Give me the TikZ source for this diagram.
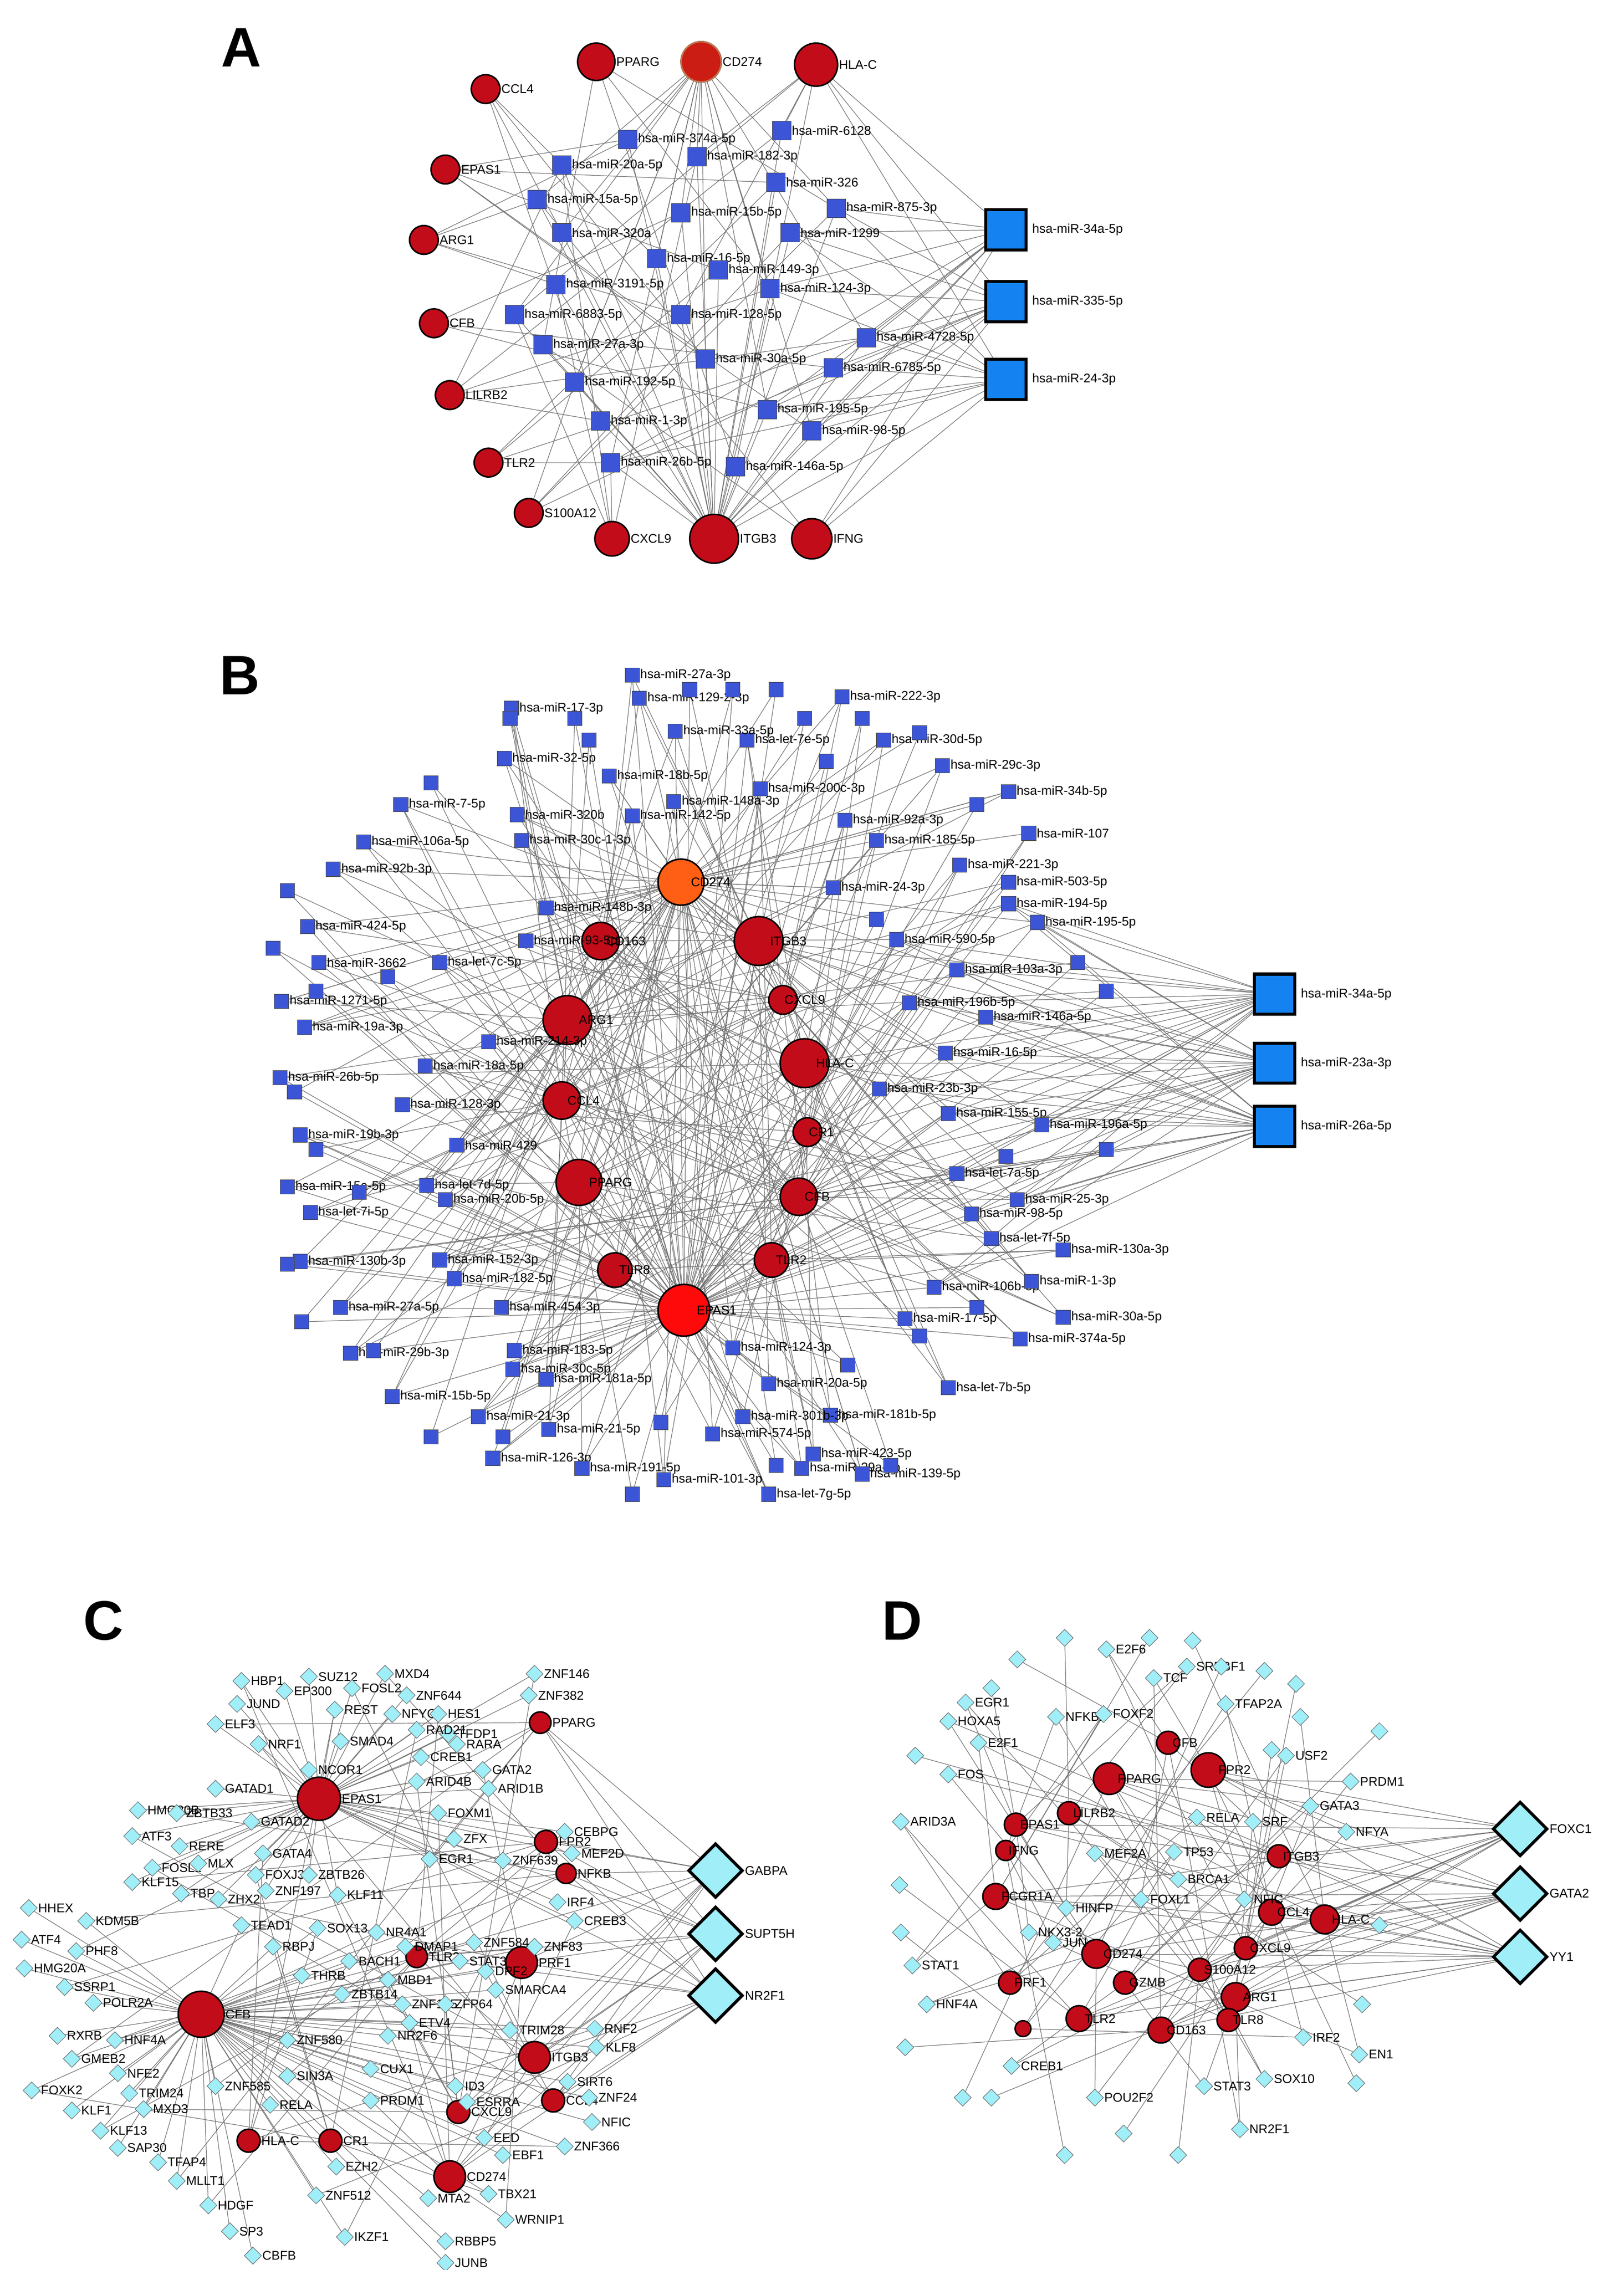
\documentclass[tikz,border=0pt]{standalone}
\usepackage{fontspec}
\setmainfont{Liberation Sans}
\usetikzlibrary{shapes.geometric,backgrounds}
\definecolor{hubred}{RGB}{195,12,25}
\definecolor{sqblue}{RGB}{60,85,215}
\definecolor{bigblue}{RGB}{20,130,240}
\definecolor{diacyan}{RGB}{160,238,248}
\tikzset{
 hub/.style={circle,fill=hubred,draw=black,line width=3pt,inner sep=0pt},
 sq/.style={rectangle,fill=sqblue,draw=black!70,line width=1pt,minimum size=1cm,inner sep=0pt},
 bigsq/.style={rectangle,fill=bigblue,draw=black,line width=6pt,minimum size=2.8cm,inner sep=0pt},
 dia/.style={diamond,fill=diacyan,draw=black!60,line width=1pt,minimum size=1.2cm,inner sep=0pt},
 bigdia/.style={diamond,fill=diacyan,draw=black,line width=6pt,minimum size=3.8cm,inner sep=0pt},
 lab/.style={font=\fontsize{25}{27}\selectfont,inner sep=1pt},
 edge/.style={draw=black!55,line width=1.2pt},
 panel/.style={font=\bfseries\fontsize{110}{120}\selectfont},
}
\begin{document}
\begin{tikzpicture}[x=0.1cm,y=-0.1cm]
\useasboundingbox (0,0) rectangle (1130,1580);
\node[panel] at (168,33) {A};
\node[panel] at (167,470) {B};
\node[panel] at (72,1128) {C};
\node[panel] at (628,1128) {D};
% ================= A
\foreach[count=\i] \x/\y/\s/\t in {415/43/26/PPARG,488/43/28/CD274,568/45/30/HLA-C,338/62/20/CCL4,310/118/20/EPAS1,295/167/20/ARG1,302/225/20/CFB,313/275/20/LILRB2,340/322/20/TLR2,368/357/20/S100A12,426/375/24/CXCL9,497/375/34/ITGB3,565/375/28/IFNG}
 \node[hub,minimum size=\s mm,label={[lab]right:\t}] (ag\i) at (\x,\y) {};
\node[circle,fill=hubred!85!orange,draw={rgb,255:red,190;green,120;blue,80},line width=3pt,minimum size=28mm] at (ag2) {};
\foreach[count=\i] \x/\y/\t in {437/97/hsa-miR-374a-5p,391/115/hsa-miR-20a-5p,485/109/hsa-miR-182-3p,544/91/hsa-miR-6128,374/139/hsa-miR-15a-5p,540/127/hsa-miR-326,582/145/hsa-miR-875-3p,391/162/hsa-miR-320a,474/148/hsa-miR-15b-5p,550/162/hsa-miR-1299,457/180/hsa-miR-16-5p,500/188/hsa-miR-149-3p,536/201/hsa-miR-124-3p,387/198/hsa-miR-3191-5p,358/219/hsa-miR-6883-5p,474/219/hsa-miR-128-5p,603/235/hsa-miR-4728-5p,378/240/hsa-miR-27a-3p,491/250/hsa-miR-30a-5p,580/256/hsa-miR-6785-5p,400/266/hsa-miR-192-5p,534/285/hsa-miR-195-5p,565/300/hsa-miR-98-5p,418/293/hsa-miR-1-3p,425/322/hsa-miR-26b-5p,512/325/hsa-miR-146a-5p}
 \node[sq,minimum size=1.3cm,label={[lab]right:\t}] (am\i) at (\x,\y) {};
\foreach[count=\j] \y/\t in {160/hsa-miR-34a-5p,210/hsa-miR-335-5p,264/hsa-miR-24-3p}
 \node[bigsq,label={[lab,xshift=3mm]right:\t}] (ab\j) at (700,\y) {};
% ================= B
\foreach[count=\i] \x/\y/\s/\t in {474/614/32/CD274,528/655/34/ITGB3,418/655/26/CD163,395/710/34/ARG1,545/696/20/CXCL9,560/740/34/HLA-C,391/766/26/CCL4,562/788/20/CR1,403/823/32/PPARG,556/833/26/CFB,537/877/24/TLR2,428/884/24/TLR8,476/912/36/EPAS1}
 \node[hub,minimum size=\s mm,label={[lab,xshift=-10mm]right:\t}] (bh\i) at (\x,\y) {};
\node[hub,fill={rgb,255:red,255;green,95;blue,20},minimum size=32mm,label={[lab,xshift=-10mm]right:CD274}] at (bh1) {};
\node[hub,fill={rgb,255:red,255;green,10;blue,10},minimum size=36mm,label={[lab,xshift=-10mm]right:EPAS1}] at (bh13) {};
\foreach[count=\i] \x/\y/\t in {440/470/hsa-miR-27a-3p,445/486/hsa-miR-129-2-3p,356/493/hsa-miR-17-3p,586/485/hsa-miR-222-3p,520/515/hsa-let-7e-5p,615/515/hsa-miR-30d-5p,470/509/hsa-miR-33a-5p,656/533/hsa-miR-29c-3p,351/528/hsa-miR-32-5p,424/540/hsa-miR-18b-5p,529/549/hsa-miR-200c-3p,702/551/hsa-miR-34b-5p,279/560/hsa-miR-7-5p,360/567/hsa-miR-320b,440/568/hsa-miR-142-5p,469/558/hsa-miR-148a-3p,588/571/hsa-miR-92a-3p,253/586/hsa-miR-106a-5p,363/585/hsa-miR-30c-1-3p,610/585/hsa-miR-185-5p,716/580/hsa-miR-107,232/605/hsa-miR-92b-3p,668/602/hsa-miR-221-3p,580/618/hsa-miR-24-3p,702/614/hsa-miR-503-5p,380/632/hsa-miR-148b-3p,702/629/hsa-miR-194-5p,214/645/hsa-miR-424-5p,366/655/hsa-miR-93-5p,722/642/hsa-miR-195-5p,624/654/hsa-miR-590-5p,222/670/hsa-miR-3662,306/670/hsa-let-7c-5p,666/675/hsa-miR-103a-3p,633/698/hsa-miR-196b-5p,196/697/hsa-miR-1271-5p,686/708/hsa-miR-146a-5p,212/715/hsa-miR-19a-3p,340/725/hsa-miR-214-3p,658/733/hsa-miR-16-5p,195/750/hsa-miR-26b-5p,296/742/hsa-miR-18a-5p,612/758/hsa-miR-23b-3p,280/769/hsa-miR-128-3p,660/775/hsa-miR-155-5p,725/783/hsa-miR-196a-5p,209/790/hsa-miR-19b-3p,318/797/hsa-miR-429,200/826/hsa-miR-15a-5p,297/825/hsa-let-7d-5p,666/817/hsa-let-7a-5p,310/835/hsa-miR-20b-5p,216/844/hsa-let-7i-5p,708/835/hsa-miR-25-3p,676/845/hsa-miR-98-5p,690/862/hsa-let-7f-5p,209/878/hsa-miR-130b-3p,306/877/hsa-miR-152-3p,740/870/hsa-miR-130a-3p,316/890/hsa-miR-182-5p,650/896/hsa-miR-106b-5p,718/892/hsa-miR-1-3p,237/910/hsa-miR-27a-5p,349/910/hsa-miR-454-3p,630/918/hsa-miR-17-5p,740/917/hsa-miR-30a-5p,710/932/hsa-miR-374a-5p,244/942/hsa-miR-29b-3p,358/940/hsa-miR-183-5p,510/938/hsa-miR-124-3p,357/953/hsa-miR-30c-5p,380/960/hsa-miR-181a-5p,535/963/hsa-miR-20a-5p,660/966/hsa-let-7b-5p,273/972/hsa-miR-15b-5p,578/985/hsa-miR-181b-5p,333/986/hsa-miR-21-3p,382/995/hsa-miR-21-5p,517/986/hsa-miR-301b-3p,496/998/hsa-miR-574-5p,343/1015/hsa-miR-126-3p,566/1012/hsa-miR-423-5p,558/1022/hsa-miR-29a-3p,600/1026/hsa-miR-139-5p,405/1022/hsa-miR-191-5p,462/1030/hsa-miR-101-3p,535/1040/hsa-let-7g-5p}
 {\node[sq,label={[lab]right:\t}] (bm\i) at (\x,\y) {};\xdef\nB{\i}}
\foreach[count=\i] \x/\y in {355/500,400/500,480/480,510/480,540/480,560/500,600/500,640/510,200/620,190/660,220/690,205/760,770/690,220/800,200/880,210/920,640/930,590/950,770/800,700/805,300/1000,440/1040,620/1020,350/1000,750/670,250/830,270/680,540/1020,410/515,575/530,300/545,680/560,680/910,260/940,460/990,610/640}
 {\node[sq] (bu\i) at (\x,\y) {};\xdef\nBu{\i}}
\foreach[count=\j] \y/\t in {692/hsa-miR-34a-5p,740/hsa-miR-23a-3p,784/hsa-miR-26a-5p}
 \node[bigsq,label={[lab,xshift=3mm]right:\t}] (bb\j) at (887,\y) {};
% ================= C
\foreach[count=\i] \x/\y/\s/\t in {222/1252/30/EPAS1,140/1402/32/CFB,376/1199/15/PPARG,380/1282/16/FPR2,394/1304/14/NFKB,290/1362/15/TLR2,363/1366/22/PRF1,372/1432/22/ITGB3,385/1462/16/CCL4,319/1470/16/CXCL9,173/1490/16/HLA-C,230/1490/16/CR1,313/1515/22/CD274}
 \node[hub,minimum size=\s mm,label={[lab]right:\t}] (ch\i) at (\x,\y) {};
\foreach[count=\i] \x/\y/\t in {372/1165/ZNF146,368/1180/ZNF382,168/1170/HBP1,215/1167/SUZ12,268/1165/MXD4,198/1177/EP300,245/1175/FOSL2,165/1186/JUND,233/1190/REST,283/1180/ZNF644,150/1200/ELF3,273/1193/NFYC,305/1193/HES1,312/1207/TFDP1,180/1214/NRF1,237/1212/SMAD4,290/1204/RAD21,318/1214/RARA,293/1223/CREB1,215/1232/NCOR1,336/1232/GATA2,150/1245/GATAD1,290/1240/ARID4B,340/1245/ARID1B,305/1262/FOXM1,96/1260/HMG20B,123/1262/ZBTB33,175/1268/GATAD2,92/1278/ATF3,125/1285/RERE,183/1290/GATA4,316/1280/ZFX,299/1294/EGR1,350/1295/ZNF639,393/1275/CEBPG,398/1290/MEF2D,106/1300/FOSL1,138/1297/MLX,178/1305/FOXJ3,215/1305/ZBTB26,92/1310/KLF15,126/1318/TBP,152/1322/ZHX2,185/1316/ZNF197,235/1319/KLF11,388/1324/IRF4,400/1337/CREB3,20/1328/HHEX,60/1337/KDM5B,262/1345/NR4A1,282/1355/DMAP1,168/1340/TEAD1,221/1342/SOX13,15/1350/ATF4,53/1358/PHF8,243/1365/BACH1,372/1355/ZNF83,330/1352/ZNF584,338/1372/DPF2,17/1370/HMG20A,190/1355/RBPJ,210/1375/THRB,45/1383/SSRP1,65/1394/POLR2A,238/1388/ZBTB14,280/1395/ZNF175,310/1395/ZFP64,345/1385/SMARCA4,285/1408/ETV4,40/1417/RXRB,80/1420/HNF4A,200/1420/ZNF580,270/1417/NR2F6,355/1413/TRIM28,414/1412/RNF2,415/1425/KLF8,50/1433/GMEB2,82/1443/NFE2,200/1445/SIN3A,258/1440/CUX1,395/1449/SIRT6,410/1460/ZNF24,22/1455/FOXK2,90/1457/TRIM24,150/1452/ZNF585,317/1452/ID3,325/1463/ESRRA,50/1469/KLF1,100/1468/MXD3,188/1465/RELA,258/1462/PRDM1,412/1477/NFIC,70/1483/KLF13,82/1495/SAP30,337/1488/EED,350/1500/EBF1,393/1494/ZNF366,110/1505/TFAP4,123/1518/MLLT1,234/1508/EZH2,145/1535/HDGF,160/1553/SP3,220/1528/ZNF512,298/1530/MTA2,340/1527/TBX21,176/1570/CBFB,240/1557/IKZF1,310/1560/RBBP5,352/1545/WRNIP1,310/1575/JUNB,270/1378/MBD1,320/1365/STAT3}
 {\node[dia,label={[lab]right:\t}] (cd\i) at (\x,\y) {};\xdef\nC{\i}}
\foreach[count=\j] \y/\t in {1302/GABPA,1346/SUPT5H,1389/NR2F1}
 \node[bigdia,label={[lab]right:\t}] (cb\j) at (498,\y) {};
% ================= D
\foreach[count=\i] \x/\y/\s/\t in {772/1238/22/PPARG,813/1213/16/CFB,841/1232/24/FPR2,744/1262/16/LILRB2,707/1270/16/EPAS1,700/1288/14/IFNG,693/1320/18/FCGR1A,890/1292/16/ITGB3,885/1331/18/CCL4,922/1336/20/HLA-C,867/1356/16/CXCL9,835/1371/16/S100A12,763/1360/20/CD274,783/1380/16/GZMB,860/1390/20/ARG1,703/1380/16/PRF1,751/1405/18/TLR2,808/1413/18/CD163,855/1406/16/TLR8}
 \node[hub,minimum size=\s mm,label={[lab,xshift=-6mm]right:\t}] (dh\i) at (\x,\y) {};
\node[hub,minimum size=11mm] (dh20) at (712,1412) {};
\foreach[count=\i] \x/\y/\t in {770/1148/E2F6,803/1168/TCF,826/1160/SREBF1,672/1185/EGR1,735/1195/NFKB1,768/1193/FOXF2,660/1198/HOXA5,853/1186/TFAP2A,681/1213/E2F1,895/1222/USF2,940/1240/PRDM1,660/1235/FOS,912/1257/GATA3,872/1268/SRF,833/1265/RELA,627/1268/ARID3A,937/1275/NFYA,762/1290/MEF2A,817/1289/TP53,820/1308/BRCA1,794/1322/FOXL1,866/1322/NFIC,742/1328/HINFP,716/1345/NKX3-2,733/1352/JUN,635/1368/STAT1,645/1395/HNF4A,907/1418/IRF2,946/1430/EN1,704/1438/CREB1,880/1447/SOX10,762/1460/POU2F2,838/1452/STAT3,863/1482/NR2F1}
 {\node[dia,label={[lab]right:\t}] (dd\i) at (\x,\y) {};\xdef\nD{\i}}
\foreach[count=\i] \x/\y in {741/1140,800/1140,830/1142,850/1160,880/1163,902/1172,708/1155,690/1175,637/1222,885/1218,960/1205,626/1312,627/1345,944/1450,741/1500,782/1485,820/1500,690/1460,630/1425,670/1460,948/1395,960/1340,905/1195}
 {\node[dia] (du\i) at (\x,\y) {};\xdef\nDu{\i}}
\foreach[count=\j] \y/\t in {1273/FOXC1,1318/GATA2,1362/YY1}
 \node[bigdia,label={[lab]right:\t}] (db\j) at (1058,\y) {};
% ================= EDGES
\begin{pgfonlayer}{background}
\fill[white] (0,0) rectangle (1130,1580);
\foreach \i in {1,...,26}{
 \pgfmathtruncatemacro\a{mod(5*\i,13)+1}\pgfmathtruncatemacro\b{mod(3*\i+1,11)+1}
 \draw[edge] (am\i)--(ag12) (am\i)--(ag\a) (am\i)--(ag\b);
 \ifodd\i \draw[edge] (am\i)--(ag2);\fi}
\foreach \j in {1,2,3}{
 \foreach \k in {7,10,13,17,20,22,23,25} \draw[edge] (ab\j)--(am\k);
 \foreach \k in {12,13,3} \draw[edge] (ab\j)--(ag\k);}
\foreach \i in {1,...,\nB}{
 \pgfmathtruncatemacro\a{mod(\i,12)+1}\pgfmathtruncatemacro\b{mod(5*\i+3,12)+1}
 \draw[edge] (bm\i)--(bh\a) (bm\i)--(bh\b);
 \ifodd\i \draw[edge] (bm\i)--(bh13);\else\draw[edge] (bm\i)--(bh1);\fi}
\foreach \i in {1,...,\nBu}{
 \pgfmathtruncatemacro\a{mod(3*\i,12)+1}
 \draw[edge] (bu\i)--(bh\a) (bu\i)--(bh13);}
\foreach \j in {1,2,3}{
 \foreach \k in {27,30,31,34,35,37,40,43,45,46,51,54,55,58,61} \draw[edge] (bb\j)--(bm\k);
 \foreach \k in {2,6,10,13} \draw[edge] (bb\j)--(bh\k);}
\foreach \i in {1,...,\nC}{
 \pgfmathtruncatemacro\a{mod(7*\i,11)+3}
 \ifnum\i<48 \draw[edge] (cd\i)--(ch1);\else\draw[edge] (cd\i)--(ch2);\fi
 \ifodd\i \draw[edge] (cd\i)--(ch\a);\fi}
\foreach \j in {1,2,3}
 \foreach \k in {3,4,5,6,7,8,9,10,13,1} \draw[edge] (cb\j)--(ch\k);
\foreach \i in {1,...,\nD}{
 \pgfmathtruncatemacro\a{mod(\i,20)+1}\pgfmathtruncatemacro\b{mod(7*\i+3,20)+1}
 \draw[edge] (dd\i)--(dh\a) (dd\i)--(dh\b);}
\foreach \i in {1,...,\nDu}{
 \pgfmathtruncatemacro\a{mod(3*\i,20)+1}
 \draw[edge] (du\i)--(dh\a);}
\foreach \j in {1,2,3}
 \foreach \k in {1,3,5,7,8,9,10,11,12,13,15,17,18} \draw[edge] (db\j)--(dh\k);
\end{pgfonlayer}
\end{tikzpicture}
\end{document}
